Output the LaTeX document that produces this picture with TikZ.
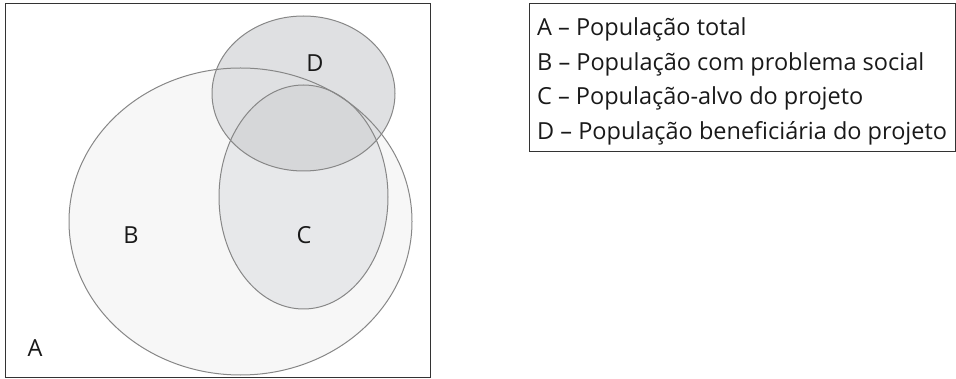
\documentclass[tikz,border=0pt]{standalone}
\usepackage{fontspec}
\setmainfont{Open Sans}
\definecolor{fillB}{RGB}{247,247,247}
\definecolor{fillC}{RGB}{231,232,234}
\definecolor{fillD}{RGB}{223,224,226}
\definecolor{fillCD}{RGB}{214,215,217}
\definecolor{edge}{RGB}{135,135,135}
\begin{document}
\begin{tikzpicture}[x=1pt, y=-1pt,
  setline/.style={draw=edge, line width=1pt},
  letter/.style={font=\fontsize{23.5}{28}\selectfont, text=black!90, inner sep=0pt},
  legend/.style={font=\fontsize{23.5}{28}\selectfont, text=black!90, inner sep=0pt, anchor=base west}]
  \useasboundingbox (0,0) rectangle (956,379);

  % fills
  \fill[fillB] (240.5,221.5) ellipse (171.5 and 153.5);
  \fill[fillC] (303.5,197) ellipse (84.5 and 112);
  \fill[fillD] (303.5,93.5) ellipse (91.5 and 77.5);
  \begin{scope}
    \clip (303.5,197) ellipse (84.5 and 112);
    \fill[fillCD] (303.5,93.5) ellipse (91.5 and 77.5);
  \end{scope}

  % outlines
  \draw[black!80, line width=1pt] (5,4) rectangle (430,377);
  \draw[setline] (240.5,221.5) ellipse (171.5 and 153.5);
  \draw[setline] (303.5,197) ellipse (84.5 and 112);
  \draw[setline] (303.5,93.5) ellipse (91.5 and 77.5);

  \node[letter] (labA) at (35,348) {A};
  \node[letter] (labB) at (131,235) {B};
  \node[letter] (labC) at (304,235) {C};
  \node[letter] (labD) at (315,63) {D};

  % legenda
  \draw[black!80, line width=1pt] (529,4) rectangle (955,152);
  \node[legend] (legA) at (537,36) {A – População total};
  \node[legend] (legB) at (537,71) {B – População com problema social};
  \node[legend] (legC) at (537,105) {C – População-alvo do projeto};
  \node[legend] (legD) at (537,140) {D – População beneficiária do projeto};
\end{tikzpicture}
\end{document}
